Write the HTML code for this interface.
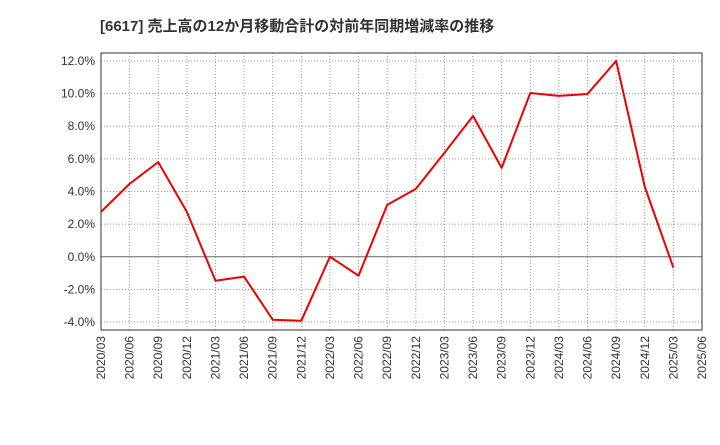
<!DOCTYPE html>
<html><head><meta charset="utf-8"><style>
body{margin:0;background:#fff;}
svg{font-family:"Liberation Sans","Noto Sans CJK JP",sans-serif;}
</style></head><body>
<svg id="chart" width="720" height="440" xmlns="http://www.w3.org/2000/svg">
<text x="100" y="31" font-size="15" font-weight="bold" fill="#333">[6617]  売上高の12か月移動合計の対前年同期増減率の推移</text>
<g id="grid"></g><g id="axes"></g><g id="series"></g>
</svg>
<script>
const categories=["2020/03","2020/06","2020/09","2020/12","2021/03","2021/06","2021/09","2021/12","2022/03","2022/06","2022/09","2022/12","2023/03","2023/06","2023/09","2023/12","2024/03","2024/06","2024/09","2024/12","2025/03","2025/06"];
const values=[2.75,4.47,5.8,2.75,-1.47,-1.22,-3.86,-3.92,0,-1.16,3.18,4.16,6.37,8.63,5.45,10.04,9.86,9.98,12.0,4.29,-0.67];
const yTicks=[-4,-2,0,2,4,6,8,10,12];
const L=101,R=702,T=53,B=330,yMin=-4.49,yMax=12.49;
const ns="http://www.w3.org/2000/svg";
const x=i=>L+(R-L)*i/(categories.length-1);
const y=v=>B-(v-yMin)/(yMax-yMin)*(B-T);
function mk(tag,attrs,parent){const e=document.createElementNS(ns,tag);for(const k in attrs)e.setAttribute(k,attrs[k]);parent.appendChild(e);return e;}
const grid=document.getElementById('grid'),axes=document.getElementById('axes'),series=document.getElementById('series');
yTicks.forEach(t=>{
 const g=mk('line',{x1:L,x2:R,y1:y(t),y2:y(t),stroke:t===0?'#666':'#999','stroke-width':1,'stroke-dasharray':t===0?'':'1,2'},grid);
 
 
 const lb=mk('text',{x:L-6,y:y(t)+4,'text-anchor':'end','font-size':12,fill:'#333'},axes);
 lb.textContent=t.toFixed(1)+'%';
 
 
});
categories.forEach((c,i)=>{
 const g=mk('line',{x1:x(i),x2:x(i),y1:T,y2:B,stroke:'#999','stroke-width':1,'stroke-dasharray':'1,2'},grid);
 
 
 const lb=mk('text',{x:0,y:0,'text-anchor':'end','font-size':12,fill:'#333',transform:`translate(${x(i)+4},${B+6}) rotate(-90)`},axes);
 lb.textContent=c;
 
 
});
const fr=mk('rect',{x:L,y:T,width:R-L,height:B-T,fill:'none',stroke:'#333','stroke-width':1},axes);


const pl=mk('polyline',{points:values.map((v,i)=>x(i)+','+y(v)).join(' '),fill:'none',stroke:'#e00','stroke-width':2,'stroke-linejoin':'round'},series);


</script>
</body></html>
